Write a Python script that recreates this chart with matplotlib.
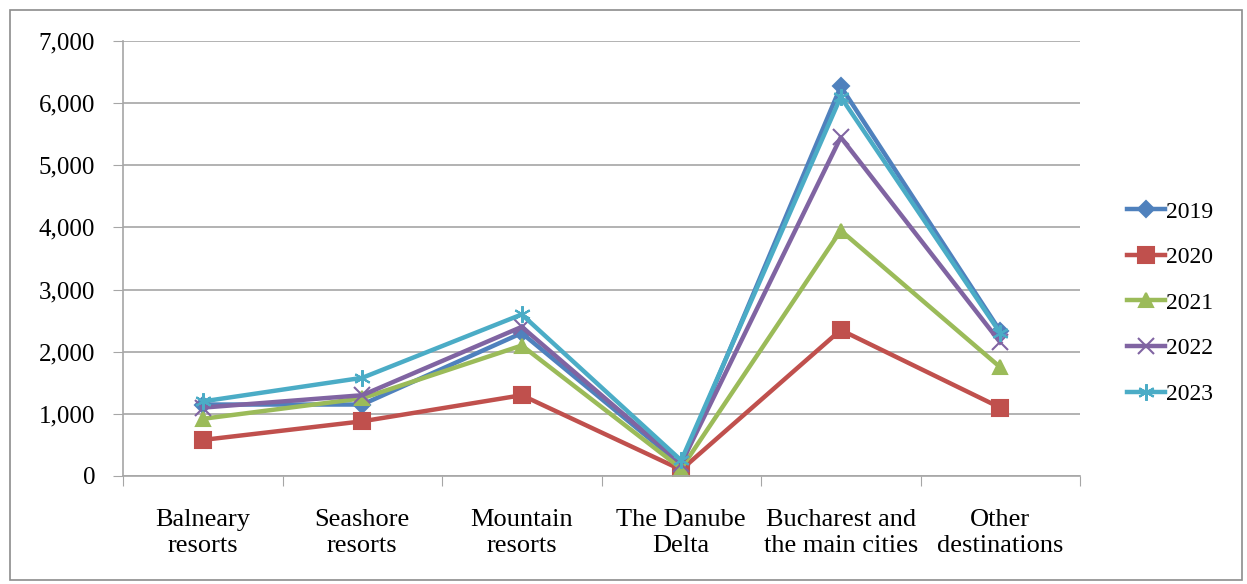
import matplotlib.pyplot as plt
import numpy as np
from matplotlib.patches import Rectangle

plt.rcParams["font.family"] = ["Liberation Serif", "DejaVu Serif"]

categories = ["Balneary\nresorts", "Seashore\nresorts", "Mountain\nresorts",
              "The Danube\nDelta", "Bucharest and\nthe main cities", "Other\ndestinations"]
years = ["2019", "2020", "2021", "2022", "2023"]
v2019 = [1150, 1150, 2300, 180, 6270, 2330]
v2020 = [580, 880, 1300, 100, 2350, 1100]
v2021 = [920, 1250, 2100, 120, 3950, 1750]
v2022 = [1100, 1300, 2400, 200, 5450, 2150]
v2023 = [1200, 1580, 2600, 250, 6100, 2300]
yticks = [0, 1000, 2000, 3000, 4000, 5000, 6000, 7000]

series = [v2019, v2020, v2021, v2022, v2023]
colors = ["#4F81BD", "#C0504D", "#9BBB59", "#8064A2", "#4BACC6"]
markers = ["D", "s", "^", "x", (6, 2, 0)]
msizes = [8, 11, 10, 11, 12]

fig = plt.figure(figsize=(12.47, 5.84), dpi=100)
ax = fig.add_axes([123 / 1247, 1 - 476 / 584, (1080 - 123) / 1247, (476 - 41) / 584])

x = np.arange(len(categories))
for name, vals, c, m, ms in zip(years, series, colors, markers, msizes):
    ax.plot(x, vals, color=c, lw=3.2, marker=m, ms=ms, mew=1.5, mec=c, mfc=c, label=name)

ax.set_xlim(-0.5, len(categories) - 0.5)
ax.set_ylim(0, 7000)
ax.set_yticks(yticks)
ax.set_yticklabels([f"{t:,}" for t in yticks], fontsize=18)
ax.yaxis.grid(True, color="#a6a6a6", lw=1.2)
ax.set_axisbelow(True)

# category labels sit between the boundary tick marks
ax.set_xticks(np.arange(-0.5, len(categories), 1.0))
ax.set_xticklabels([])
ax.set_xticks(x, minor=True)
ax.set_xticklabels(categories, minor=True, fontsize=19, linespacing=1.2)
ax.tick_params(axis="x", which="minor", length=0, pad=24)
ax.tick_params(axis="x", which="major", length=7, color="#a6a6a6", direction="out")
ax.tick_params(axis="y", length=7, color="#a6a6a6", direction="out", pad=13)

for s in ["top", "right"]:
    ax.spines[s].set_visible(False)
for s in ["left", "bottom"]:
    ax.spines[s].set_color("#a6a6a6")
    ax.spines[s].set_linewidth(1.2)

ax.legend(loc="center left", bbox_to_anchor=(1115 / 1247, 1 - 303 / 584),
          bbox_transform=fig.transFigure, frameon=False, fontsize=17,
          handlelength=1.6, handletextpad=0.05, labelspacing=1.02, borderpad=0)

fig.patches.append(Rectangle((10 / 1247, 4 / 584), 1232 / 1247, 570 / 584,
                             transform=fig.transFigure, fill=False,
                             edgecolor="#8c8c8c", lw=1.2))

fig.savefig("out.png", dpi=100)
